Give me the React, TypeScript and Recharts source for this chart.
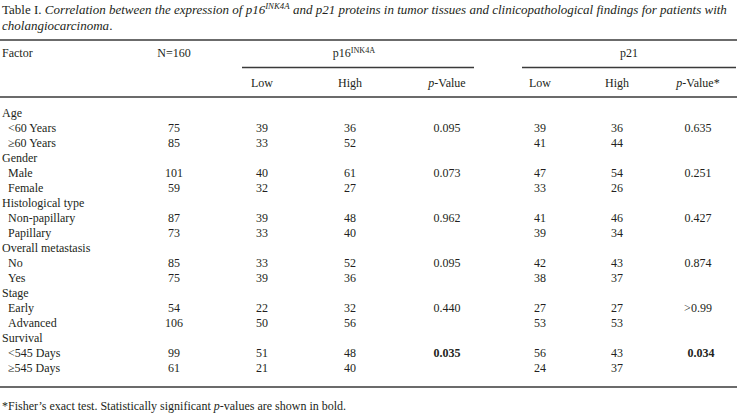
import React from 'react';
import { ScatterChart, Scatter, XAxis, YAxis, ReferenceLine } from 'recharts';

// ---------- data ----------
const groups = ['Age', 'Gender', 'Histological type', 'Overall metastasis', 'Stage', 'Survival'];
const subgroups = [
  ['<60 Years', '≥60 Years'],
  ['Male', 'Female'],
  ['Non-papillary', 'Papillary'],
  ['No', 'Yes'],
  ['Early', 'Advanced'],
  ['<545 Days', '≥545 Days'],
];
const nValues = [75, 85, 101, 59, 87, 73, 85, 75, 54, 106, 99, 61];
const p16Low = [39, 33, 40, 32, 39, 33, 33, 39, 22, 50, 51, 21];
const p16High = [36, 52, 61, 27, 48, 40, 52, 36, 32, 56, 48, 40];
const p16P = ['0.095', '0.073', '0.962', '0.095', '0.440', '0.035'];
const p21Low = [39, 41, 47, 33, 41, 39, 42, 38, 27, 53, 56, 24];
const p21High = [36, 44, 54, 26, 46, 34, 43, 37, 27, 53, 43, 37];
const p21P = ['0.635', '0.251', '0.427', '0.874', '>0.99', '0.034'];
const significant = [false, false, false, false, false, true];

type Seg = { t: string; i?: boolean; sup?: boolean };
const titleLine1: Seg[] = [
  { t: 'Table I. ' },
  { t: 'Correlation between the expression of p16', i: true },
  { t: 'INK4A', i: true, sup: true },
  { t: ' and p21 proteins in tumor tissues and clinicopathological findings for patients with', i: true },
];
const titleLine2: Seg[] = [{ t: 'cholangiocarcinoma', i: true }, { t: '.' }];
const headFactor: Seg[] = [{ t: 'Factor' }];
const headN: Seg[] = [{ t: 'N=160' }];
const headP16: Seg[] = [{ t: 'p16' }, { t: 'INK4A', sup: true }];
const headP21: Seg[] = [{ t: 'p21' }];
const headLow: Seg[] = [{ t: 'Low' }];
const headHigh: Seg[] = [{ t: 'High' }];
const headPValue: Seg[] = [{ t: 'p', i: true }, { t: '-Value' }];
const headPValueStar: Seg[] = [{ t: 'p', i: true }, { t: '-Value*' }];
const footnote: Seg[] = [
  { t: '*Fisher’s exact test. Statistically significant ' },
  { t: 'p', i: true },
  { t: '-values are shown in bold.' },
];

// ---------- layout ----------
const W = 739;
const H = 420;
const ROW_PX = 15;
const ROW0_PX = 113;
const yDomain: [number, number] = [-ROW0_PX / ROW_PX, (H - ROW0_PX) / ROW_PX];
const rowOf = (px: number) => (px - ROW0_PX) / ROW_PX;

const COL = {
  label: 2,
  indent: 8,
  n: 174,
  p16Low: 262,
  p16High: 350,
  p16P: 447,
  p21Low: 540,
  p21High: 617,
  p21P: 698,
};

type Item = { x: number; y: number; segs: Seg[]; anchor: string; bold?: boolean; size?: number };

const items: Item[] = [];
items.push({ x: COL.label, y: rowOf(9.5), segs: titleLine1, anchor: 'start', size: 13 });
items.push({ x: COL.label, y: rowOf(25.5), segs: titleLine2, anchor: 'start', size: 13 });
items.push({ x: COL.label, y: rowOf(53), segs: headFactor, anchor: 'start' });
items.push({ x: COL.n, y: rowOf(53), segs: headN, anchor: 'middle' });
items.push({ x: (242 + 474) / 2 - 4, y: rowOf(53), segs: headP16, anchor: 'middle' });
items.push({ x: (522 + 736) / 2, y: rowOf(53), segs: headP21, anchor: 'middle' });
items.push({ x: COL.p16Low, y: rowOf(83), segs: headLow, anchor: 'middle' });
items.push({ x: COL.p16High, y: rowOf(83), segs: headHigh, anchor: 'middle' });
items.push({ x: COL.p16P, y: rowOf(83), segs: headPValue, anchor: 'middle' });
items.push({ x: COL.p21Low, y: rowOf(83), segs: headLow, anchor: 'middle' });
items.push({ x: COL.p21High, y: rowOf(83), segs: headHigh, anchor: 'middle' });
items.push({ x: COL.p21P, y: rowOf(83), segs: headPValueStar, anchor: 'middle' });
items.push({ x: COL.label, y: rowOf(406), segs: footnote, anchor: 'start' });

groups.forEach((g, gi) => {
  const r = gi * 3;
  items.push({ x: COL.label, y: r, segs: [{ t: g }], anchor: 'start' });
  subgroups[gi].forEach((s, si) => {
    const k = gi * 2 + si;
    const rr = r + 1 + si;
    items.push({ x: COL.indent, y: rr, segs: [{ t: s }], anchor: 'start' });
    items.push({ x: COL.n, y: rr, segs: [{ t: String(nValues[k]) }], anchor: 'middle' });
    items.push({ x: COL.p16Low, y: rr, segs: [{ t: String(p16Low[k]) }], anchor: 'middle' });
    items.push({ x: COL.p16High, y: rr, segs: [{ t: String(p16High[k]) }], anchor: 'middle' });
    items.push({ x: COL.p21Low, y: rr, segs: [{ t: String(p21Low[k]) }], anchor: 'middle' });
    items.push({ x: COL.p21High, y: rr, segs: [{ t: String(p21High[k]) }], anchor: 'middle' });
    if (si === 0) {
      items.push({ x: COL.p16P, y: rr, segs: [{ t: p16P[gi] }], anchor: 'middle', bold: significant[gi] });
      items.push({ x: COL.p21P + (significant[gi] ? 3 : 0), y: rr, segs: [{ t: p21P[gi] }], anchor: 'middle', bold: significant[gi] });
    }
  });
});

const rules = [
  { y: rowOf(40), x1: 0, x2: 737 },
  { y: rowOf(67.5), x1: 242, x2: 474 },
  { y: rowOf(67.5), x1: 522, x2: 736 },
  { y: rowOf(97), x1: 0, x2: 737 },
  { y: rowOf(387), x1: 0, x2: 737 },
];

const FONT = '"Liberation Serif", "Times New Roman", serif';
const INK = '#231f20';

function CellText(props: any) {
  const { cx, cy, payload } = props;
  const p: Item = payload;
  const size = p.size ?? 12;
  const children: React.ReactNode[] = [];
  let prevSup = false;
  p.segs.forEach((s, i) => {
    let dy: number | undefined;
    if (s.sup) dy = -size * 0.38;
    else if (prevSup) dy = size * 0.38;
    children.push(
      <tspan
        key={i}
        dy={dy}
        fontStyle={s.i ? 'italic' : 'normal'}
        fontSize={s.sup ? size * 0.68 : size}
      >
        {s.t}
      </tspan>
    );
    prevSup = !!s.sup;
  });
  return (
    <text
      x={cx}
      y={cy}
      dy="0.36em"
      textAnchor={p.anchor as any}
      fontFamily={FONT}
      fontSize={size}
      fill={INK}
      fontWeight={p.bold ? 'bold' : 'normal'}
    >
      {children}
    </text>
  );
}

export default function App() {
  return (
    <div style={{ position: 'absolute', left: 0, top: 0, width: W, height: H, background: '#fff' }}>
      <ScatterChart width={W} height={H} margin={{ top: 0, right: 0, bottom: 0, left: 0 }}>
        <XAxis type="number" dataKey="x" domain={[0, W]} scale="linear" allowDataOverflow hide />
        <YAxis type="number" dataKey="y" domain={yDomain} scale="linear" allowDataOverflow reversed hide />
        {rules.map((r, i) => (
          <ReferenceLine
            key={i}
            segment={[{ x: r.x1, y: r.y }, { x: r.x2, y: r.y }]}
            stroke="#3a3a3a"
            strokeWidth={1.4}
          />
        ))}
        <Scatter data={items} isAnimationActive={false} shape={(props: any) => <CellText {...props} />} />
      </ScatterChart>
    </div>
  );
}
